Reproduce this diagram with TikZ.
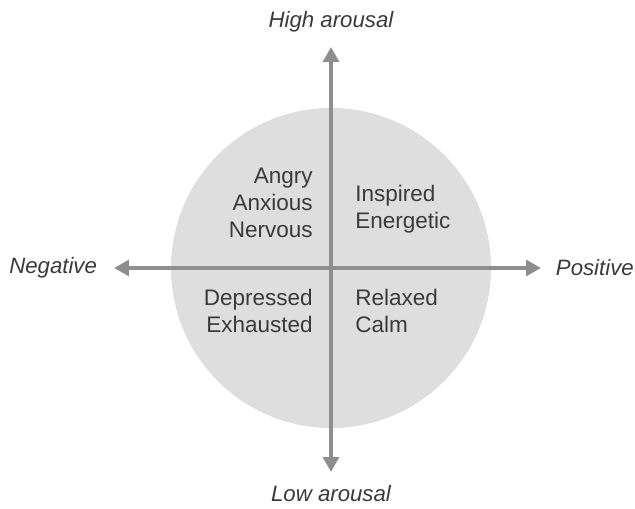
\documentclass[tikz,border=0pt]{standalone}
\usepackage{fontspec}
\setmainfont{Liberation Sans}
\usetikzlibrary{arrows.meta,positioning}
\definecolor{axisgray}{HTML}{8E8E8E}
\definecolor{discgray}{HTML}{DEDEDE}
\definecolor{textgray}{HTML}{3A3A3A}
\begin{document}
\begin{tikzpicture}[x=0.025cm,y=-0.025cm,
    font=\fontsize{16}{19}\selectfont,text=textgray,
    axis/.style={draw=axisgray,line width=3pt,-{Triangle[length=10.5pt,width=11pt]}},
    feel/.style={inner sep=0pt},
    pole/.style={inner sep=0pt,font=\fontsize{15.8}{18}\selectfont\itshape}]
    \useasboundingbox (0,0) rectangle (635,508);
    \fill[discgray] (331,268) circle (160);
    % axes
    \coordinate (O) at (331,268);
    \coordinate (N) at (331,47);
    \coordinate (S) at (331,472);
    \coordinate (W) at (114,268);
    \coordinate (E) at (541,268);
    \draw[axis] (O) -- (N);
    \draw[axis] (O) -- (S);
    \draw[axis] (O) -- (W);
    \draw[axis] (O) -- (E);
    % pole labels
    \node[pole] (high) at (331,22) {High arousal};
    \node[pole] (low) at (331,494) {Low arousal};
    \node[pole,anchor=west] (neg) at (9,268) {Negative};
    \node[pole,anchor=east] (pos) at (634,268) {Positive};
    % quadrant labels
    \node[feel,align=right,anchor=east] (tl) at (313,203) {Angry\\Anxious\\Nervous};
    \node[feel,align=left,anchor=west] (tr) at (355,209) {Inspired\\Energetic};
    \node[feel,align=right,anchor=east] (bl) at (313,311) {Depressed\\Exhausted};
    \node[feel,align=left,anchor=west] (br) at (355,311) {Relaxed\\Calm};
\end{tikzpicture}
\end{document}
